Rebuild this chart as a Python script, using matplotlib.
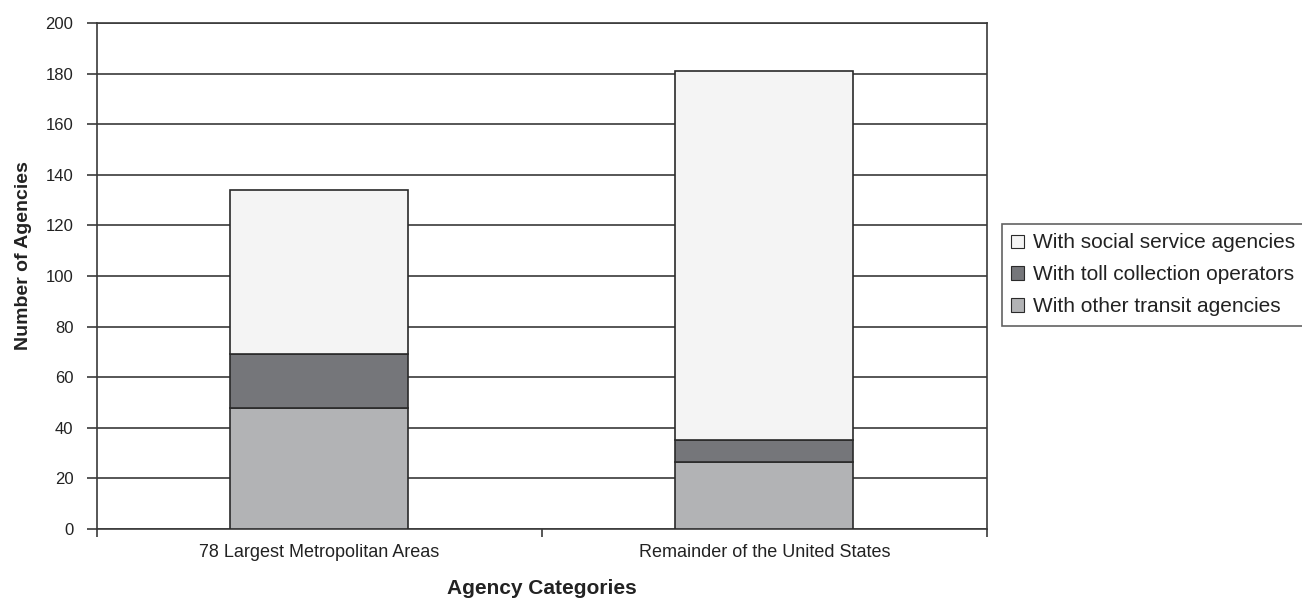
import matplotlib.pyplot as plt
import numpy as np

plt.rcParams['font.family'] = ['Liberation Sans', 'DejaVu Sans']

# agency counts per category, stacked bottom to top
categories = ['78 Largest Metropolitan Areas', 'Remainder of the United States']
other_transit = [48, 26.5]
toll_collection = [21, 8.5]
social_service = [65, 146]

fig = plt.figure(figsize=(13.02, 6.09), dpi=100)
ax = fig.add_axes([0.0745, 0.1314, 0.6835, 0.8306])

x = np.arange(len(categories))
w = 0.4
edge = '#2a2a2a'
b1 = ax.bar(x, other_transit, w, color='#b2b3b5', edgecolor=edge, linewidth=1.2,
            label='With other transit agencies', zorder=3)
b2 = ax.bar(x, toll_collection, w, bottom=other_transit, color='#75767a', edgecolor=edge,
            linewidth=1.2, label='With toll collection operators', zorder=3)
bottom2 = np.add(other_transit, toll_collection)
b3 = ax.bar(x, social_service, w, bottom=bottom2, color='#f4f4f4', edgecolor=edge,
            linewidth=1.2, label='With social service agencies', zorder=3)

ax.set_xlim(-0.5, 1.5)
ax.set_ylim(0, 200)
ax.set_yticks(range(0, 201, 20))
ax.yaxis.grid(True, color='#3a3a3a', linewidth=1.2, zorder=0)
ax.set_axisbelow(True)

# category labels centred, tick marks on the boundaries
ax.set_xticks(x)
ax.set_xticklabels(categories, fontsize=13)
ax.tick_params(axis='x', which='major', length=0, pad=11, colors='#222222')
ax.set_xticks([-0.5, 0.5, 1.5], minor=True)
ax.tick_params(axis='x', which='minor', length=6, width=1.2, color='#3a3a3a')
ax.tick_params(axis='y', length=7, width=1.2, color='#3a3a3a', labelsize=12,
               labelcolor='#222222', pad=10)

for s in ax.spines.values():
    s.set_color('#3a3a3a')
    s.set_linewidth(1.2)

ax.set_xlabel('Agency Categories', fontsize=15, fontweight='bold', labelpad=13,
              color='#222222')
ax.set_ylabel('Number of Agencies', fontsize=14, fontweight='bold', color='#222222')
ax.yaxis.set_label_coords(-0.073, 0.541)

leg = fig.legend(handles=[b3, b2, b1], loc='upper left', bbox_to_anchor=(0.7695, 0.632),
                 frameon=True, fancybox=False, edgecolor='#3a3a3a', fontsize=15,
                 handlelength=0.6, handleheight=0.6, handletextpad=0.45,
                 labelspacing=0.62, borderpad=0.45, borderaxespad=0)
leg.get_frame().set_linewidth(1.2)
for t in leg.get_texts():
    t.set_color('#222222')
for h in leg.legend_handles:
    h.set_linewidth(0.8)

fig.savefig('out.png', dpi=100)
